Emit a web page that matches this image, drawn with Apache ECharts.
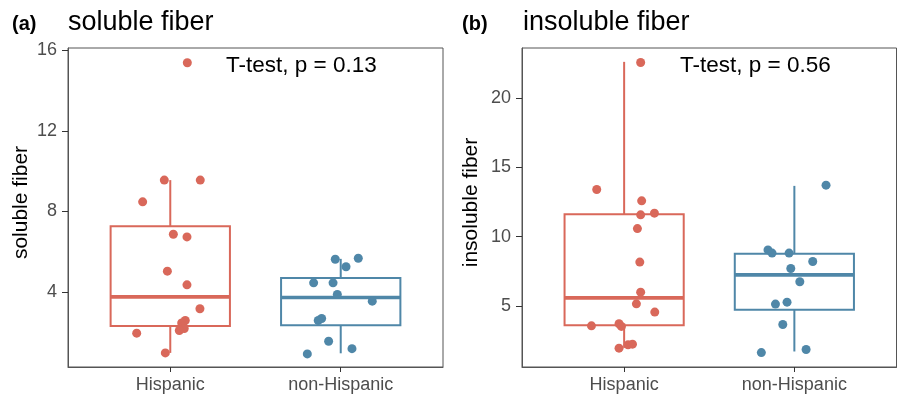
<!DOCTYPE html>
<html><head><meta charset="utf-8">
<script src="https://cdn.jsdelivr.net/npm/echarts@6/dist/echarts.min.js"></script>
<style>html,body{margin:0;padding:0;background:#fff}#c{width:901px;height:394px}</style>
</head><body><div id="c"></div>
<script>
const categories = ['Hispanic', 'non-Hispanic'];
const panelTags = ['(a)', '(b)'];
const panelTitles = ['soluble fiber', 'insoluble fiber'];
const yNames = ['soluble fiber', 'insoluble fiber'];
const testLabels = ['T-test, p = 0.13', 'T-test, p = 0.56'];
const solubleTicks = [4, 8, 12, 16];
const insolubleTicks = [5, 10, 15, 20];

// box stats: [lower whisker, Q1, median, Q3, upper whisker]
const solubleBoxHisp = [0.98, 2.32, 3.76, 7.27, 9.56];
const solubleBoxNon = [0.96, 2.35, 3.73, 4.70, 5.65];
const insolubleBoxHisp = [1.98, 3.62, 5.59, 11.63, 22.62];
const insolubleBoxNon = [1.72, 4.73, 7.25, 8.77, 13.67];

// jittered points (x = group position incl. jitter, y = value)
const solubleHispX = [1.100, 0.965, 1.176, 0.838, 1.018, 1.098, 0.983, 1.098, 1.174, 1.088, 1.067, 1.075, 1.082, 1.053, 0.803, 0.971];
const solubleHispY = [15.39, 9.56, 9.56, 8.48, 6.87, 6.74, 5.04, 4.36, 3.17, 2.59, 2.47, 2.30, 2.19, 2.09, 1.96, 0.98];
const solubleNonX = [1.968, 2.103, 2.031, 1.841, 1.955, 1.980, 2.185, 1.888, 1.868, 1.929, 2.066, 1.804];
const solubleNonY = [5.63, 5.68, 5.26, 4.46, 4.46, 3.88, 3.55, 2.69, 2.59, 1.56, 1.19, 0.93];
const insolubleHispX = [1.097, 0.839, 1.103, 1.097, 1.178, 1.078, 1.092, 1.072, 1.180, 0.808, 0.970, 0.984, 0.970, 1.023, 1.049, 1.097];
const insolubleHispY = [22.57, 13.41, 12.59, 11.58, 11.70, 10.59, 8.17, 5.16, 4.56, 3.57, 3.72, 3.53, 1.96, 2.20, 2.25, 6.00];
const insolubleNonX = [2.186, 1.845, 1.869, 1.969, 2.108, 1.979, 2.032, 1.889, 1.957, 1.932, 2.069, 1.806];
const insolubleNonY = [13.72, 9.05, 8.82, 8.82, 8.21, 7.71, 6.75, 5.14, 5.28, 3.67, 1.86, 1.64];

const RED = '#D9685A', BLUE = '#4F87A8';
const FONT = '"Liberation Sans", Arial, sans-serif';
const BOXW = 0.70;

const chart = echarts.init(document.getElementById('c'), null, {renderer: 'canvas'});

function zip(xs, ys) { return xs.map((x, i) => [x, ys[i]]); }

function boxSeries(idx, pos, stats, color) {
  return {
    type: 'custom', xAxisIndex: idx, yAxisIndex: idx, z: 2,
    encode: {x: 0, y: [1, 2, 3, 4, 5]},
    data: [[pos].concat(stats)],
    renderItem: function (params, api) {
      const x = api.value(0);
      const lw = api.value(1), q1 = api.value(2), md = api.value(3), q3 = api.value(4), uw = api.value(5);
      const pTL = api.coord([x - BOXW / 2, q3]);
      const pBR = api.coord([x + BOXW / 2, q1]);
      const pMl = api.coord([x - BOXW / 2, md]);
      const pMr = api.coord([x + BOXW / 2, md]);
      const pUw = api.coord([x, uw]);
      const pQ3 = api.coord([x, q3]);
      const pQ1 = api.coord([x, q1]);
      const pLw = api.coord([x, lw]);
      const st = {stroke: color, lineWidth: 2, fill: null};
      return {
        type: 'group', children: [
          {type: 'line', shape: {x1: pUw[0], y1: pUw[1], x2: pQ3[0], y2: pQ3[1]}, style: st},
          {type: 'line', shape: {x1: pQ1[0], y1: pQ1[1], x2: pLw[0], y2: pLw[1]}, style: st},
          {type: 'rect', shape: {x: pTL[0], y: pTL[1], width: pBR[0] - pTL[0], height: pBR[1] - pTL[1]}, style: {stroke: color, lineWidth: 2, fill: '#fff'}},
          {type: 'line', shape: {x1: pMl[0], y1: pMl[1], x2: pMr[0], y2: pMr[1]}, style: {stroke: color, lineWidth: 3.6}}
        ]
      };
    }
  };
}

function scatterSeries(idx, xs, ys, color) {
  return {
    type: 'scatter', xAxisIndex: idx, yAxisIndex: idx, z: 5,
    symbol: 'circle', symbolSize: 9,
    itemStyle: {color: color, opacity: 1},
    data: zip(xs, ys)
  };
}

function xAxisCfg(idx) {
  return {
    type: 'value', gridIndex: idx, min: 0.4, max: 2.6,
    splitLine: {show: false},
    axisLine: {show: true, lineStyle: {color: '#555', width: 1}},
    axisTick: {show: true, length: 5, lineStyle: {color: '#333', width: 1}, customValues: [1, 2]},
    axisLabel: {show: true, customValues: [1, 2], margin: 9, fontSize: 18, color: '#4D4D4D', fontFamily: FONT,
      formatter: v => categories[Math.round(v) - 1] || ''}
  };
}

function yAxisCfg(idx, min, max, ticks, name, gap) {
  return {
    type: 'value', gridIndex: idx, min: min, max: max,
    name: name, nameLocation: 'middle', nameGap: gap,
    nameTextStyle: {fontSize: 21, color: '#000', fontFamily: FONT, padding: [0, 0, 0, 10]},
    splitLine: {show: false},
    axisLine: {show: true, lineStyle: {color: '#555', width: 1}},
    axisTick: {show: true, length: 6, lineStyle: {color: '#333', width: 1}, customValues: ticks},
    axisLabel: {show: true, customValues: ticks, margin: 11, fontSize: 18, color: '#4D4D4D', fontFamily: FONT}
  };
}

const option = {
  animation: false,
  backgroundColor: '#fff',
  grid: [
    {left: 68, top: 48, width: 375, height: 319, show: true, borderColor: '#555', borderWidth: 1, backgroundColor: 'transparent'},
    {left: 522, top: 48, width: 374.5, height: 319, show: true, borderColor: '#555', borderWidth: 1, backgroundColor: 'transparent'}
  ],
  xAxis: [xAxisCfg(0), xAxisCfg(1)],
  yAxis: [
    yAxisCfg(0, 0.28, 16.12, solubleTicks, yNames[0], 36),
    yAxisCfg(1, 0.6, 23.62, insolubleTicks, yNames[1], 40)
  ],
  series: [
    boxSeries(0, 1, solubleBoxHisp, RED),
    boxSeries(0, 2, solubleBoxNon, BLUE),
    boxSeries(1, 1, insolubleBoxHisp, RED),
    boxSeries(1, 2, insolubleBoxNon, BLUE),
    scatterSeries(0, solubleHispX, solubleHispY, RED),
    scatterSeries(0, solubleNonX, solubleNonY, BLUE),
    scatterSeries(1, insolubleHispX, insolubleHispY, RED),
    scatterSeries(1, insolubleNonX, insolubleNonY, BLUE)
  ],
  graphic: [
    {type: 'text', left: 12, top: 14, style: {text: panelTags[0], font: 'bold 20px ' + FONT, fill: '#000'}},
    {type: 'text', left: 68, top: 9, style: {text: panelTitles[0], font: '27px ' + FONT, fill: '#000'}},
    {type: 'text', left: 462, top: 14, style: {text: panelTags[1], font: 'bold 20px ' + FONT, fill: '#000'}},
    {type: 'text', left: 523, top: 9, style: {text: panelTitles[1], font: '27px ' + FONT, fill: '#000'}},
    {type: 'text', left: 226, top: 54, style: {text: testLabels[0], font: '22.5px ' + FONT, fill: '#000'}},
    {type: 'text', left: 680, top: 54, style: {text: testLabels[1], font: '22.5px ' + FONT, fill: '#000'}}
  ]
};
chart.setOption(option);
</script></body></html>
